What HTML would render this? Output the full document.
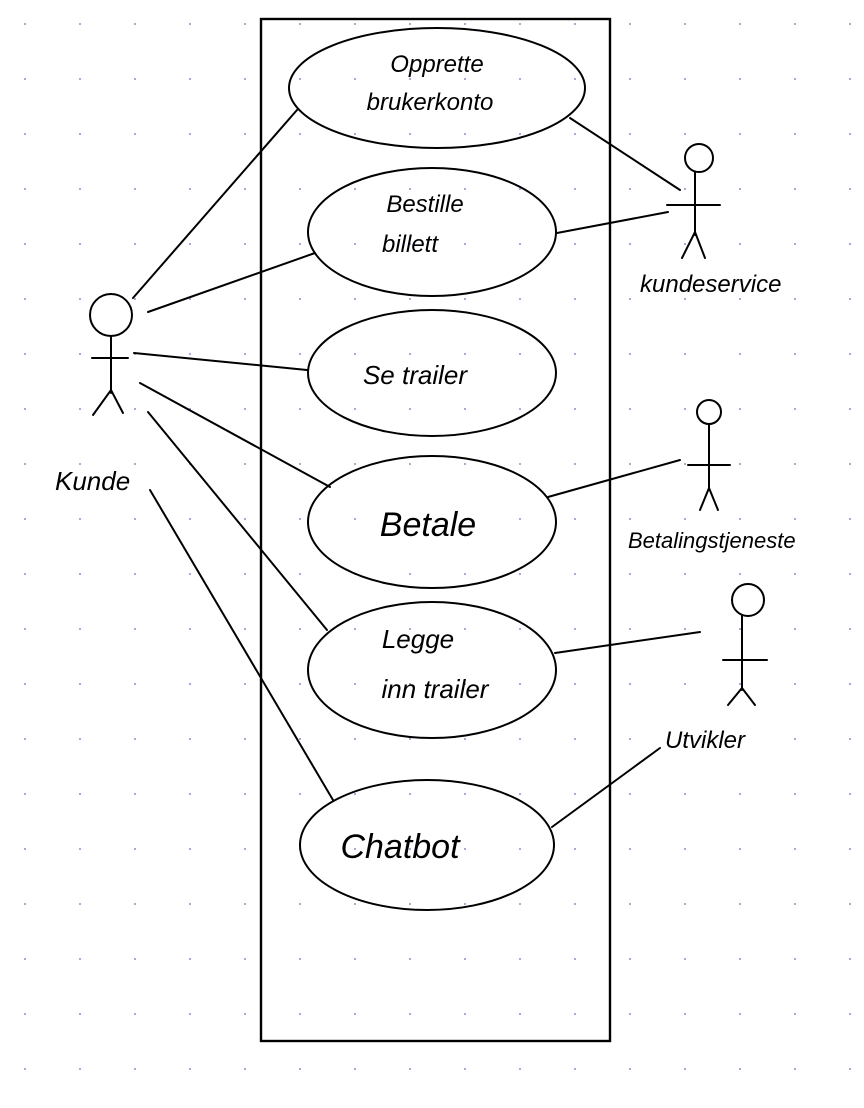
<!DOCTYPE html>
<html><head><meta charset="utf-8"><style>
html,body{margin:0;padding:0;background:#fff;}
svg{display:block}
text{font-family:"Liberation Sans",sans-serif;fill:#000;font-style:italic}
</style></head><body>
<svg width="864" height="1108" viewBox="0 0 864 1108" xmlns="http://www.w3.org/2000/svg">
<defs><pattern id="g" x="0" y="0" width="55" height="55" patternUnits="userSpaceOnUse"><rect x="24" y="23" width="2" height="2" fill="#9fb0d4"/></pattern></defs>
<rect width="864" height="1108" fill="url(#g)"/>
<g fill="none" stroke="#000" stroke-width="2" stroke-linecap="round">
<rect x="261" y="19" width="349" height="1022" stroke-width="2.4"/>
<ellipse cx="437" cy="88" rx="148" ry="60"/>
<ellipse cx="432" cy="232" rx="124" ry="64"/>
<ellipse cx="432" cy="373" rx="124" ry="63"/>
<ellipse cx="432" cy="522" rx="124" ry="66"/>
<ellipse cx="432" cy="670" rx="124" ry="68"/>
<ellipse cx="427" cy="845" rx="127" ry="65"/>
<line x1="133" y1="298" x2="297" y2="110"/>
<line x1="148" y1="312" x2="315" y2="253"/>
<line x1="134" y1="353" x2="307" y2="370"/>
<line x1="140" y1="383" x2="330" y2="487"/>
<line x1="148" y1="412" x2="327" y2="630"/>
<line x1="150" y1="490" x2="333" y2="800"/>
<line x1="570" y1="118" x2="680" y2="190"/>
<line x1="557" y1="233" x2="668" y2="212"/>
<line x1="548" y1="497" x2="680" y2="460"/>
<line x1="555" y1="653" x2="700" y2="632"/>
<line x1="552" y1="827" x2="660" y2="748"/>
<circle cx="111" cy="315" r="21"/>
<line x1="111" y1="337" x2="111" y2="393"/>
<line x1="92" y1="358" x2="128" y2="358"/>
<path d="M93 415 L111 390 L123 413"/>
<circle cx="699" cy="158" r="14"/>
<line x1="695" y1="172" x2="695" y2="235"/>
<line x1="667" y1="205" x2="720" y2="205"/>
<path d="M682 258 L695 232 L705 258"/>
<circle cx="709" cy="412" r="12"/>
<line x1="709" y1="425" x2="709" y2="490"/>
<line x1="688" y1="465" x2="730" y2="465"/>
<path d="M700 510 L709 488 L718 510"/>
<circle cx="748" cy="600" r="16"/>
<line x1="742" y1="616" x2="742" y2="690"/>
<line x1="723" y1="660" x2="767" y2="660"/>
<path d="M728 705 L742 688 L755 705"/>
</g>
<text x="437" y="72" font-size="24" text-anchor="middle">Opprette</text>
<text x="430" y="110" font-size="24" text-anchor="middle">brukerkonto</text>
<text x="425" y="212" font-size="24" text-anchor="middle">Bestille</text>
<text x="410" y="252" font-size="24" text-anchor="middle">billett</text>
<text x="415" y="384" font-size="26" text-anchor="middle">Se trailer</text>
<text x="428" y="536" font-size="34" text-anchor="middle">Betale</text>
<text x="418" y="648" font-size="26" text-anchor="middle">Legge</text>
<text x="435" y="698" font-size="26" text-anchor="middle">inn trailer</text>
<text x="400" y="858" font-size="34" text-anchor="middle">Chatbot</text>
<text x="55" y="490" font-size="26">Kunde</text>
<text x="640" y="292" font-size="24">kundeservice</text>
<text x="628" y="548" font-size="22">Betalingstjeneste</text>
<text x="665" y="748" font-size="24">Utvikler</text>
</svg>
</body></html>
